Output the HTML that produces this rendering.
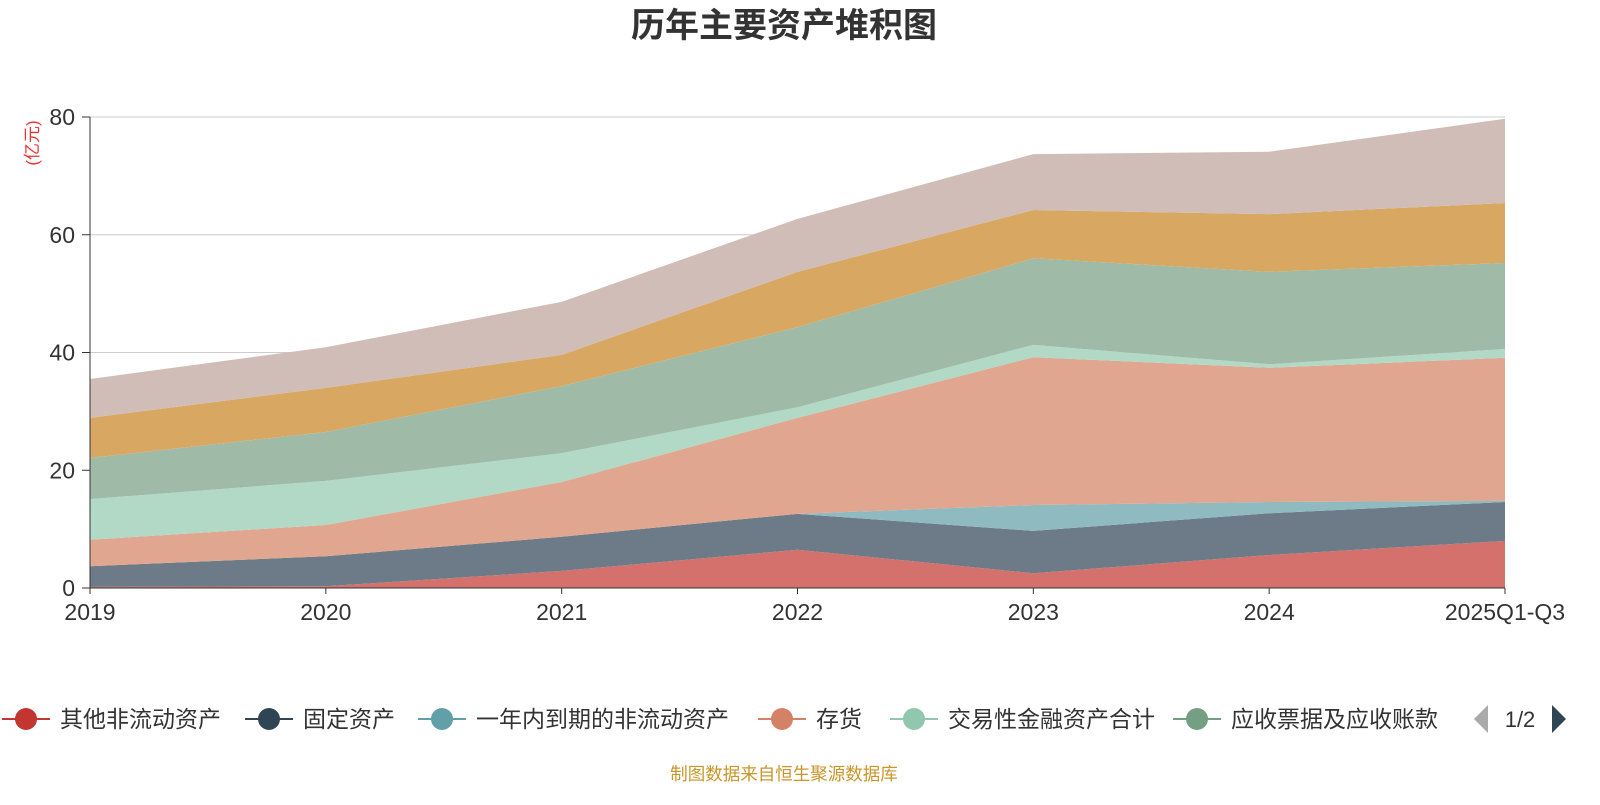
<!DOCTYPE html>
<html><head><meta charset="utf-8"><style>
body{margin:0;background:#fff;width:1600px;height:800px;overflow:hidden;font-family:"Liberation Sans","Noto Sans CJK SC",sans-serif}
</style></head><body>
<svg id="chart" width="1600" height="800" xmlns="http://www.w3.org/2000/svg" font-family="Liberation Sans, Noto Sans CJK SC, sans-serif">
<text x="784" y="37" text-anchor="middle" font-size="34" font-weight="bold" fill="#333">历年主要资产堆积图</text>
<text transform="translate(38,143) rotate(-90)" text-anchor="middle" font-size="17" fill="#e33">(亿元)</text>
<g id="grid"></g><g id="areas"></g><g id="axes"></g>
<g id="legend"></g>
<text x="784" y="780" text-anchor="middle" font-size="17.5" fill="#c8962a">制图数据来自恒生聚源数据库</text>
</svg>
<script>
const categories=["2019","2020","2021","2022","2023","2024","2025Q1-Q3"];
const seriesNames=["其他非流动资产","固定资产","一年内到期的非流动资产","存货","交易性金融资产合计","应收票据及应收账款","货币资金","其他流动资产"];
const s0=[0.2,0.3,2.9,6.5,2.5,5.6,8.0];
const s1=[3.5,5.1,5.8,6.1,7.2,7.1,6.6];
const s2=[0,0,0,0,4.4,1.9,0.2];
const s3=[4.5,5.3,9.3,16.3,25.1,22.8,24.3];
const s4=[6.9,7.5,4.9,1.8,2.1,0.6,1.5];
const s5=[7.0,8.3,11.4,13.6,14.7,15.7,14.6];
const s6=[6.8,7.5,5.3,9.4,8.2,9.8,10.2];
const s7=[6.6,6.9,9.0,9.0,9.5,10.6,14.3];
const yTicks=[0,20,40,60,80];
const seriesValues=[s0,s1,s2,s3,s4,s5,s6,s7];
const colors=["#d4716c","#6c7b87","#8fbac0","#e0a690","#b2d8c6","#9fbba8","#d8a862","#d0bdb7"];
const NS="http://www.w3.org/2000/svg";
const x0=90,x1=1505,yb=588,yt=117,ymax=80;
const X=i=>x0+i*(x1-x0)/(categories.length-1);
const Y=v=>yb-v*(yb-yt)/ymax;
function mk(t,a,p){const e=document.createElementNS(NS,t);for(const k in a)e.setAttribute(k,a[k]);p.appendChild(e);return e;}
const grid=document.getElementById('grid'),areas=document.getElementById('areas'),axes=document.getElementById('axes');
yTicks.forEach(t=>{
 if(t>0){const l=mk('line',{x1:x0,x2:x1,y1:Y(t),y2:Y(t),stroke:'#ccc','stroke-width':1},grid);
 
 }
 const tx=mk('text',{x:75,y:Y(t)+8,'text-anchor':'end','font-size':23,fill:'#333'},axes);tx.textContent=t;
 
 
 const tk=mk('line',{x1:82,x2:90,y1:Y(t),y2:Y(t),stroke:'#333'},axes);
 
 
});
let base=categories.map(()=>0);
seriesValues.forEach((vals,si)=>{
 const top=base.map((b,i)=>b+vals[i]);
 let d='M'+top.map((v,i)=>X(i)+','+Y(v)).join('L');
 for(let i=categories.length-1;i>=0;i--)d+='L'+X(i)+','+Y(base[i]);
 const p=mk('path',{d:d+'Z',fill:colors[si]},areas);
 
 
 base=top;
});
const ya=mk('line',{x1:x0,x2:x0,y1:yt,y2:yb,stroke:'#333'},axes);


const xa=mk('line',{x1:x0,x2:x1,y1:yb,y2:yb,stroke:'#333'},axes);


categories.forEach((c,i)=>{
 const t=mk('text',{x:X(i),y:620,'text-anchor':'middle','font-size':23,fill:'#333'},axes);t.textContent=c;
 
 
 const tk=mk('line',{x1:X(i),x2:X(i),y1:yb,y2:yb+6,stroke:'#333'},axes);
 
 
});
const lg=document.getElementById('legend');
const legX=[2,245,418,758,890,1173];
const baseCol=["#c23531","#2f4554","#61a0a8","#d48265","#91c7ae","#749f83"];
legX.forEach((lx,i)=>{
 const g=mk('g',{},lg);
 
 
 mk('line',{x1:lx,x2:lx+48,y1:719,y2:719,stroke:baseCol[i],'stroke-width':2},g);
 mk('circle',{cx:lx+24,cy:719,r:11,fill:baseCol[i]},g);
 const t=mk('text',{x:lx+58,y:727,'font-size':23,fill:'#333'},g);t.textContent=seriesNames[i];
});
const pl=mk('path',{d:'M1474,719L1488,705L1488,733Z',fill:'#aaa'},lg);


const pt=mk('text',{x:1520,y:727,'text-anchor':'middle','font-size':22,fill:'#333'},lg);pt.textContent='1/2';


const pr=mk('path',{d:'M1552,705L1566,719L1552,733Z',fill:'#2f4554'},lg);


</script>
</body></html>
